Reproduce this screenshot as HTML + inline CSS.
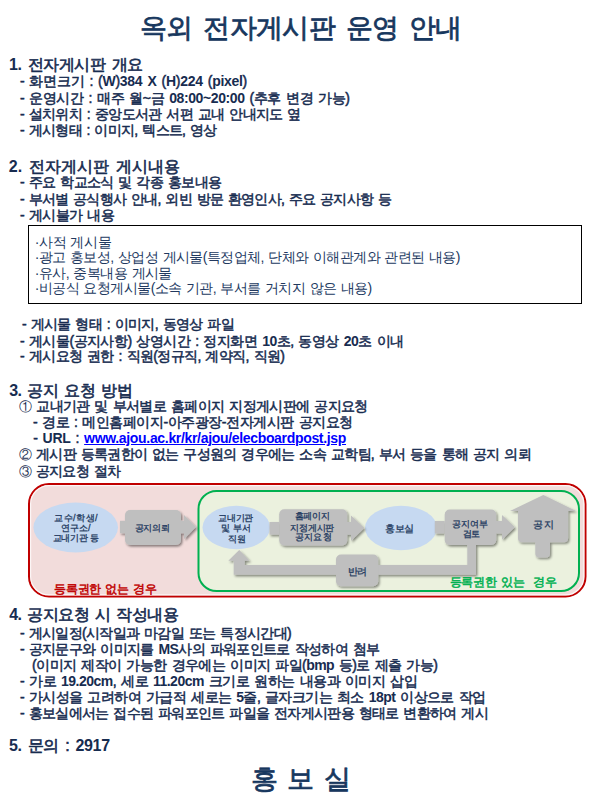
<!DOCTYPE html>
<html lang="ko"><head><meta charset="utf-8">
<style>
html,body{margin:0;padding:0;background:#fff;width:600px;height:810px;overflow:hidden}
body{position:relative;font-family:"Liberation Sans",sans-serif;color:#172c50}
.l{position:absolute;white-space:pre;line-height:1;font-weight:normal;font-size:14px;-webkit-text-stroke:0.5px currentColor;word-spacing:1.5px}
.h{font-size:16px;-webkit-text-stroke:0.6px currentColor;word-spacing:2px}
.t{font-size:27px;color:#17375e;-webkit-text-stroke:0.8px currentColor;word-spacing:4px}
.b{font-weight:normal;color:#22395f;-webkit-text-stroke:0;word-spacing:1px}
.d{position:absolute;white-space:pre;line-height:1;font-weight:normal;-webkit-text-stroke:0.3px currentColor;word-spacing:0;font-size:9px;color:#1f3a60;text-align:center}
a,.u{color:#0000ff;text-decoration:underline}
.e{font-weight:bold;-webkit-text-stroke:0}
.c{-webkit-text-stroke:0;font-size:13px;vertical-align:0.5px}
.box{position:absolute;left:28px;top:225px;width:554px;height:79px;border:1.5px solid #000;box-sizing:border-box}
</style></head><body>
<div class="l t" style="left:139.8px;top:14.6px;letter-spacing:-0.682px">옥외 전자게시판 운영 안내</div>
<div class="l h" style="left:9px;top:57px;letter-spacing:-0.400px"><b class="e">1.</b> 전자게시판 개요</div>
<div class="l" style="left:20px;top:74px;letter-spacing:-0.290px">- 화면크기 : (<b class="e">W</b>)<b class="e">384</b> <b class="e">X</b> (<b class="e">H</b>)<b class="e">224</b> (<b class="e">pixel</b>)</div>
<div class="l" style="left:20px;top:91px;letter-spacing:-0.405px">- 운영시간 : 매주 월~금 <b class="e">08:00~20:00</b> (추후 변경 가능)</div>
<div class="l" style="left:20px;top:107px;letter-spacing:-0.654px">- 설치위치 : 중앙도서관 서편 교내 안내지도 옆</div>
<div class="l" style="left:20px;top:123px;letter-spacing:-0.700px">- 게시형태 : 이미지, 텍스트, 영상</div>
<div class="l h" style="left:8.8px;top:159px;letter-spacing:0.106px"><b class="e">2.</b> 전자게시판 게시내용</div>
<div class="l" style="left:20px;top:175px;letter-spacing:-0.644px">- 주요 학교소식 및 각종 홍보내용</div>
<div class="l" style="left:20px;top:192px;letter-spacing:-0.715px">- 부서별 공식행사 안내, 외빈 방문 환영인사, 주요 공지사항 등</div>
<div class="l" style="left:20px;top:208px;letter-spacing:-0.600px">- 게시불가 내용</div>
<div class="box"></div>

<div class="l b" style="left:34.8px;top:235px;letter-spacing:-0.472px">·사적 게시물</div>
<div class="l b" style="left:34.8px;top:250px;letter-spacing:-0.575px">·광고 홍보성, 상업성 게시물(특정업체, 단체와 이해관계와 관련된 내용)</div>
<div class="l b" style="left:34.8px;top:266px;letter-spacing:-0.562px">·유사, 중복내용 게시물</div>
<div class="l b" style="left:34.8px;top:281px;letter-spacing:-0.572px">·비공식 요청게시물(소속 기관, 부서를 거치지 않은 내용)</div>
<div class="l" style="left:22px;top:317px;letter-spacing:-0.667px">- 게시물 형태 : 이미지, 동영상 파일</div>
<div class="l" style="left:20px;top:334px;letter-spacing:-0.527px">- 게시물(공지사항) 상영시간 : 정지화면 <b class="e">10</b>초, 동영상 <b class="e">20</b>초 이내</div>
<div class="l" style="left:20px;top:349px;letter-spacing:-0.629px">- 게시요청 권한 : 직원(정규직, 계약직, 직원)</div>
<div class="l h" style="left:9.2px;top:383px;letter-spacing:-0.520px"><b class="e">3.</b> 공지 요청 방법</div>
<div class="l" style="left:19.0px;top:399px;letter-spacing:-0.619px"><span class="c">①</span> 교내기관 및 부서별로 홈페이지 지정게시판에 공지요청</div>
<div class="l" style="left:33.0px;top:415.2px;letter-spacing:-0.475px">- 경로 : 메인홈페이지-아주광장-전자게시판 공지요청</div>
<div class="l" style="left:33.2px;top:431.2px;letter-spacing:-0.325px">- <b class="e">URL</b> : <span class="u"><b class="e">www.ajou.ac.kr/kr/ajou/elecboardpost.jsp</b></span></div>
<div class="l" style="left:19.0px;top:447.2px;letter-spacing:-0.674px"><span class="c">②</span> 게시판 등록권한이 없는 구성원의 경우에는 소속 교학팀, 부서 등을 통해 공지 의뢰</div>
<div class="l" style="left:19.0px;top:464px;letter-spacing:-0.727px"><span class="c">③</span> 공지요청 절차</div>
<svg style="position:absolute;left:0;top:0" width="600" height="810" viewBox="0 0 600 810">
<defs><filter id="sh" x="-20%" y="-20%" width="140%" height="140%"><feDropShadow dx="1.4" dy="1.6" stdDeviation="0.8" flood-color="#000" flood-opacity="0.45"/></filter></defs>
<rect x="29" y="484" width="556.5" height="112.5" rx="20" fill="#f2dcdb" stroke="#c00000" stroke-width="2"/>
<rect x="30.6" y="485.6" width="553.3" height="109.3" rx="18.4" fill="none" stroke="#fff" stroke-opacity="0.75" stroke-width="1.2"/>
<rect x="198.5" y="491" width="380.5" height="100" rx="18" fill="#ebf1de" stroke="#00b050" stroke-width="2"/>
<ellipse cx="75.7" cy="527.5" rx="42.3" ry="25" fill="#c6d9f1"/>
<ellipse cx="236.3" cy="527.5" rx="33.8" ry="21.7" fill="#c6d9f1"/>
<ellipse cx="401" cy="528" rx="36" ry="22.2" fill="#c6d9f1"/>
<g fill="#bfbfbf" filter="url(#sh)">
<path d="M120 520.8H125V533.3H120Z"/>
<rect x="125" y="510" width="56" height="35" rx="5"/>
<path d="M181 520.8H184V515L196 527L184 539.2V533.3H181Z"/>
<path d="M269.5 522H279.2V534.7H269.5Z"/>
<rect x="279.2" y="509.2" width="68" height="36.2" rx="5"/>
<path d="M347 522H351V515.4L364.3 528.1L351 540.9V534.7H347Z"/>
<path d="M434.8 521H444.7V533.5H434.8Z"/>
<rect x="444.7" y="509.5" width="51.5" height="35.5" rx="5"/>
<path d="M496 521H502V514.9L514.8 527.3L502 539.7V533.5H496Z"/>
<path d="M510 510.9L543.3 495.1L576.1 510.9H568.1V538.3Q568.1 542.3 564.1 542.3H550V553.5Q550 557.5 546 557.5H539.3Q535.3 557.5 535.3 553.5V542.3H522Q518 542.3 518 538.3V510.9Z"/>
<path d="M467.3 545H476V574.8H233.7V560.8H228.3L239.2 550L249.7 560.8H244.7V565H467.3Z"/>
<rect x="336" y="554.5" width="42.2" height="31.7" rx="5"/>
</g>
</svg>

<div class="l d" style="left:54px;top:514.35px;letter-spacing:0.500px">교수/학생/</div>
<div class="l d" style="left:60.6px;top:523.9px;letter-spacing:0.163px">연구소/</div>
<div class="l d" style="left:52.6px;top:534.4px;letter-spacing:-0.200px">교내기관 등</div>
<div class="l d" style="left:134.6px;top:523.85px;letter-spacing:-0.167px">공지의뢰</div>
<div class="l d" style="left:218px;top:514.35px;letter-spacing:-0.167px">교내기관</div>
<div class="l d" style="left:221.0px;top:524.0px;letter-spacing:0.162px">및 부서</div>
<div class="l d" style="left:227.6px;top:535.25px">직원</div>
<div class="l d" style="left:294.6px;top:512.4px;letter-spacing:-0.167px">홈페이지</div>
<div class="l d" style="left:290.4px;top:523.65px;letter-spacing:-0.250px">지정게시판</div>
<div class="l d" style="left:294.6px;top:533.1px;letter-spacing:0.324px">공지요청</div>
<div class="l d" style="left:385px;top:524.15px;letter-spacing:-0.500px;font-size:10px">홍보실</div>
<div class="l d" style="left:452.0px;top:519.6px">공지여부</div>
<div class="l d" style="left:462.6px;top:529.7px;letter-spacing:-0.500px">검토</div>
<div class="l d" style="left:533px;top:520.0px;letter-spacing:0.500px;font-size:10px">공지</div>
<div class="l d" style="left:347.6px;top:567.25px;letter-spacing:-1.000px;font-size:10px">반려</div>
<div class="l" style="left:54.3px;top:582.7px;letter-spacing:-0.351px;font-size:12px;color:#c00000">등록권한 없는 경우</div>
<div class="l" style="left:449.8px;top:576.25px;letter-spacing:-0.350px;font-size:12px;color:#00b050">등록권한 있는  경우</div>
<div class="l h" style="left:9.2px;top:607px;letter-spacing:-0.559px"><b class="e">4.</b> 공지요청 시 작성내용</div>
<div class="l" style="left:20px;top:626px;letter-spacing:-0.667px">- 게시일정(시작일과 마감일 또는 특정시간대)</div>
<div class="l" style="left:20px;top:642px;letter-spacing:-0.645px">- 공지문구와 이미지를 <b class="e">MS</b>사의 파워포인트로 작성하여 첨부</div>
<div class="l" style="left:32.0px;top:658px;letter-spacing:-0.563px">(이미지 제작이 가능한 경우에는 이미지 파일(<b class="e">bmp</b> 등)로 제출 가능)</div>
<div class="l" style="left:20px;top:674px;letter-spacing:-0.500px">- 가로 <b class="e">19.20cm</b>, 세로 <b class="e">11.20cm</b> 크기로 원하는 내용과 이미지 삽입</div>
<div class="l" style="left:20px;top:690px;letter-spacing:-0.568px">- 가시성을 고려하여 가급적 세로는 <b class="e">5</b>줄, 글자크기는 최소 <b class="e">18pt</b> 이상으로 작업</div>
<div class="l" style="left:20px;top:706px;letter-spacing:-0.675px">- 홍보실에서는 접수된 파워포인트 파일을 전자게시판용 형태로 변환하여 게시</div>
<div class="l h" style="left:9px;top:738px;letter-spacing:-0.331px"><b class="e">5.</b> 문의 : <b class="e">2917</b></div>
<div class="l t" style="left:250.6px;top:766.4px;letter-spacing:-0.900px">홍 보 실</div>
</body></html>
